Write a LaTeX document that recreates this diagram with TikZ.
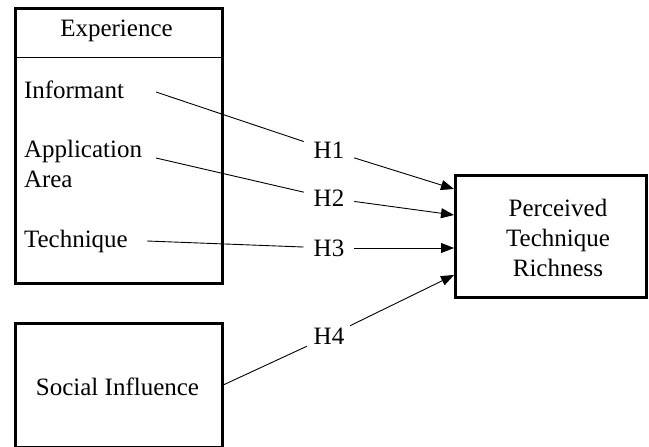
\documentclass[tikz,border=0pt]{standalone}
\usepackage{fontspec}
\setmainfont{Liberation Serif}
\usetikzlibrary{arrows.meta}
\begin{document}
\begin{tikzpicture}[x=1pt,y=-1pt,
  font=\fontsize{25}{30}\selectfont,
  boxnode/.style={draw,line width=3pt,inner sep=0pt,outer sep=0pt},
  txt/.style={inner sep=0pt,outer sep=0pt},
  hyp/.style={fill=white,inner xsep=10pt,inner ysep=2pt,outer sep=0pt},
  link/.style={line width=0.9pt},
  arr/.style={line width=0.9pt,-{Triangle[length=13pt,width=10pt]}}]
\useasboundingbox (0,0) rectangle (649,447);
% boxes
\node[boxnode,minimum width=207pt,minimum height=274.3pt] (exp) at (119,145.85) {};
\draw[line width=0.8pt] (exp.west |- 0,57) -- (exp.east |- 0,57);
\node[boxnode,minimum width=207pt,minimum height=124pt] (soc) at (119,385.3) {};
\node[boxnode,minimum width=191.2pt,minimum height=122pt] (per) at (551.1,236.3) {};
% texts
\node[txt,anchor=base] (expt) at (116.5,37) {Experience};
\node[txt,anchor=base west] (inf) at (24,98) {Informant};
\node[txt,anchor=north west,align=left] (app) at (24,139.9) {Application\\Area};
\node[txt,anchor=base west] (tec) at (24,247) {Technique};
\node[txt,anchor=base] (soct) at (117.5,395) {Social Influence};
\node[txt,align=center] (pert) at (558,237.5) {Perceived\\Technique\\Richness};
% hypothesis labels
\node[hyp] (h1) at (329,150) {H1};
\node[hyp] (h2) at (329,198) {H2};
\node[hyp] (h3) at (329,248) {H3};
\node[hyp] (h4) at (329,336) {H4};
% connector ends
\coordinate (s1) at (156,92);
\coordinate (s2) at (156,158);
\coordinate (s3) at (147,241);
\coordinate (t1) at (454,189);
\coordinate (t2) at (454,215);
\coordinate (t3) at (454,248);
\coordinate (t4) at (454,275);
% connectors
\draw[link] (s1) -- (h1);
\draw[arr] (h1) -- (t1);
\draw[link] (s2) -- (h2);
\draw[arr] (h2) -- (t2);
\draw[link] (s3) -- (h3);
\draw[arr] (h3) -- (t3);
\draw[link] (soc.east) -- (h4);
\draw[arr] (h4) -- (t4);
\end{tikzpicture}
\end{document}
